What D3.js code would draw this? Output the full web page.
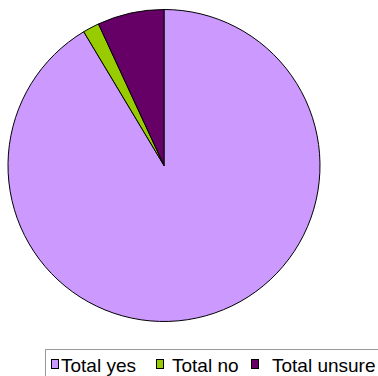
<!DOCTYPE html>
<html>
<head>
<meta charset="utf-8">
<script src="https://cdn.jsdelivr.net/npm/d3@7"></script>
<style>
  body { margin: 0; background: #fff; }
  svg { display: block; }
</style>
</head>
<body>
<div id="chart"></div>
<script>
var categories = ["Total yes", "Total no", "Total unsure"];
var values = [91.4, 1.7, 6.9];
var colors = ["#cc99ff", "#99cc00", "#660066"];

var w = 378, h = 376;
var cx = 164, cy = 165.5, r = 156;

var svg = d3.select("#chart").append("svg")
  .attr("width", w)
  .attr("height", h);

var data = categories.map(function (c, i) {
  return { name: c, value: values[i], color: colors[i] };
});

// yes starts at 12 o'clock and goes clockwise
var pie = d3.pie()
  .sort(null)
  .value(function (d) { return d.value; });

var arc = d3.arc().innerRadius(0).outerRadius(r);

svg.append("g")
  .attr("transform", "translate(" + cx + "," + cy + ")")
  .selectAll("path")
  .data(pie(data))
  .enter()
  .append("path")
  .attr("d", arc)
  .style("fill", function (d) { return d.data.color; })
  .style("stroke", "#000")
  .style("stroke-width", 1)
  .style("stroke-linejoin", "round");

// legend
var legend = svg.append("g");
legend.append("rect")
  .attr("x", 45.5)
  .attr("y", 349.5)
  .attr("width", 340)
  .attr("height", 40)
  .style("fill", "#fff")
  .style("stroke", "#999")
  .style("stroke-width", 1);

var swatchX = [51, 156, 251];
var labelX = [61, 172, 272];

var items = legend.selectAll("g.item")
  .data(data)
  .enter()
  .append("g")
  .attr("class", "item");

items.append("rect")
  .attr("x", function (d, i) { return swatchX[i] + 0.5; })
  .attr("y", 359.5)
  .attr("width", 7)
  .attr("height", 9)
  .style("fill", function (d) { return d.color; })
  .style("stroke", "#000")
  .style("stroke-width", 1);

items.append("text")
  .attr("x", function (d, i) { return labelX[i]; })
  .attr("y", 371.5)
  .text(function (d) { return d.name; })
  .style("font-family", "Liberation Sans, Arial, sans-serif")
  .style("font-size", "19px")
  .style("fill", "#000");
</script>
</body>
</html>
